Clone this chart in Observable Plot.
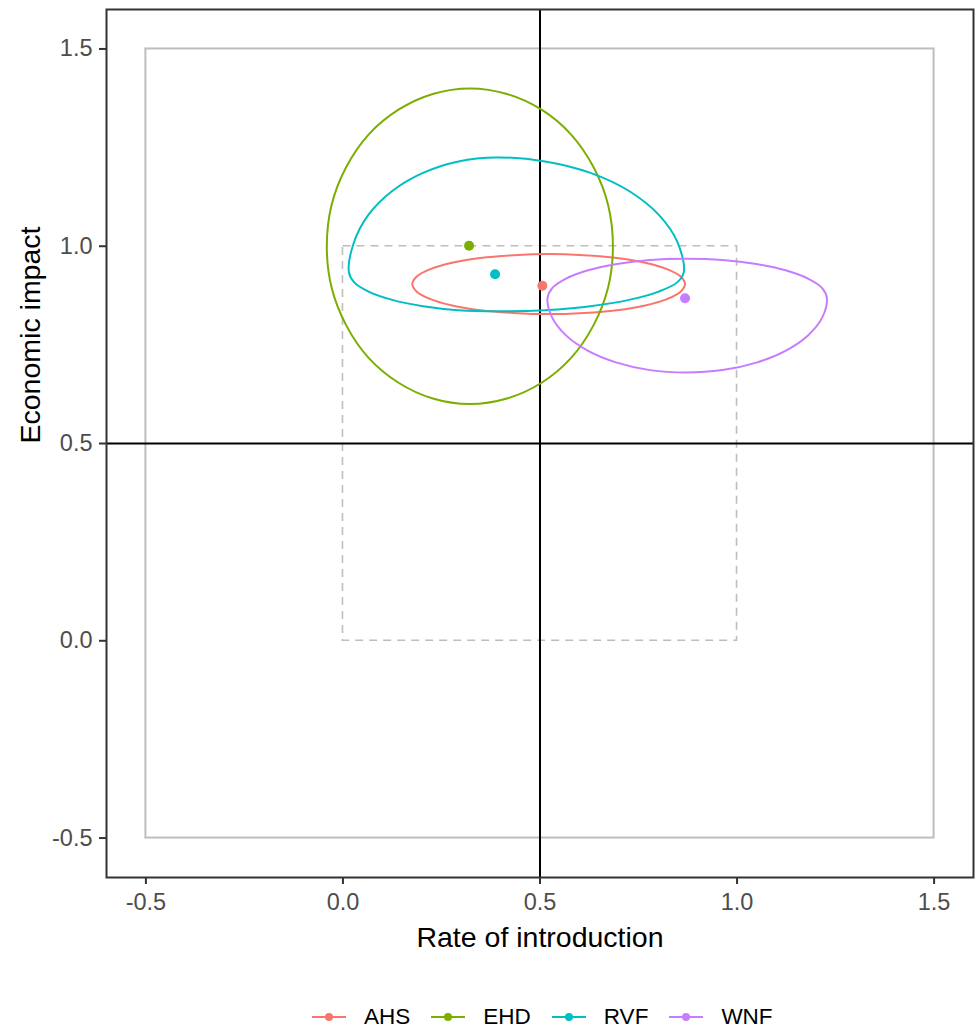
<!DOCTYPE html>
<html>
<head>
<meta charset="utf-8">
<script src="https://cdn.jsdelivr.net/npm/d3@7"></script>
<script src="https://cdn.jsdelivr.net/npm/@observablehq/plot@0.6"></script>
<style>
  html, body { margin: 0; padding: 0; background: white; }
  #chart svg [aria-label="x-axis tick"], #chart svg [aria-label="y-axis tick"] { stroke: #333333; }
  #chart svg [aria-label="x-axis tick label"], #chart svg [aria-label="y-axis tick label"] { fill: #4d4d4d; }
  #legend { width: 977px; height: 51px; box-sizing: border-box; padding-left: 312px; padding-top: 24px;
            display: flex; align-items: flex-start; font-family: "Liberation Sans", Arial, sans-serif;
            font-size: 22.5px; line-height: 26px; color: #000; }
  #legend .item { display: flex; align-items: center; margin-right: 21px; }
  #legend .item span { margin-left: 18px; }
</style>
</head>
<body>
<div id="chart"></div>
<div id="legend"></div>
<script>
// ---- data ----
const diseases = ["AHS", "EHD", "RVF", "WNF"];
const palette = ["#F8766D", "#7CAE00", "#00BFC4", "#C77CFF"];

// central estimates (points)
const centerX = [0.506, 0.320, 0.386, 0.868];
const centerY = [0.900, 1.001, 0.929, 0.868];

// outlines of the uncertainty regions (read around each shape)
const ahsX = [0.868, 0.856, 0.822, 0.767, 0.695, 0.612, 0.522, 0.432, 0.349, 0.277, 0.222, 0.188,
              0.176, 0.188, 0.222, 0.277, 0.349, 0.432, 0.522, 0.612, 0.695, 0.767, 0.822, 0.856];
const ahsY = [0.904, 0.924, 0.942, 0.958, 0.970, 0.977, 0.980, 0.977, 0.970, 0.958, 0.942, 0.924,
              0.904, 0.884, 0.866, 0.850, 0.838, 0.831, 0.828, 0.831, 0.838, 0.850, 0.866, 0.884];

const ehdX = [0.685, 0.673, 0.636, 0.579, 0.504, 0.416, 0.322, 0.228, 0.141, 0.065, 0.008, -0.029,
              -0.041, -0.029, 0.008, 0.065, 0.141, 0.228, 0.322, 0.416, 0.504, 0.579, 0.636, 0.673];
const ehdY = [1.000, 1.104, 1.200, 1.283, 1.346, 1.386, 1.400, 1.386, 1.346, 1.283, 1.200, 1.104,
              1.000, 0.896, 0.800, 0.717, 0.654, 0.614, 0.600, 0.614, 0.654, 0.717, 0.800, 0.896];

const rvfX = [0.865, 0.849, 0.801, 0.726, 0.628, 0.513, 0.390, 0.293, 0.203, 0.125, 0.065, 0.028,
              0.015, 0.028, 0.065, 0.125, 0.203, 0.293, 0.390, 0.513, 0.628, 0.726, 0.801, 0.849];
const rvfY = [0.935, 1.010, 1.080, 1.140, 1.186, 1.215, 1.225, 1.215, 1.186, 1.140, 1.080, 1.010,
              0.935, 0.909, 0.885, 0.864, 0.848, 0.838, 0.835, 0.838, 0.848, 0.864, 0.885, 0.909];

const wnfX = [1.228, 1.216, 1.180, 1.123, 1.049, 0.963, 0.870, 0.779, 0.695, 0.622, 0.566, 0.531,
              0.519, 0.531, 0.566, 0.622, 0.695, 0.779, 0.870, 0.963, 1.049, 1.123, 1.180, 1.216];
const wnfY = [0.868, 0.894, 0.918, 0.939, 0.955, 0.965, 0.968, 0.965, 0.955, 0.939, 0.918, 0.894,
              0.868, 0.819, 0.774, 0.735, 0.705, 0.686, 0.680, 0.686, 0.705, 0.735, 0.774, 0.819];

// reference boxes and quadrant lines
const outerBox = [-0.5, 1.5];
const innerBox = [0, 1];
const quadrantX = [0.5];
const quadrantY = [0.5];

const xTicks = [-0.5, 0, 0.5, 1, 1.5];
const yTicks = [-0.5, 0, 0.5, 1, 1.5];
const xTitle = "Rate of introduction";
const yTitle = "Economic impact";

// ---- tables built from the arrays ----
const outlineSets = [[ahsX, ahsY], [ehdX, ehdY], [rvfX, rvfY], [wnfX, wnfY]];
const outlineRows = [];
diseases.forEach((d, i) => {
  const [xs, ys] = outlineSets[i];
  xs.forEach((x, j) => outlineRows.push({disease: d, x, y: ys[j]}));
});
const pointRows = diseases.map((d, i) => ({disease: d, x: centerX[i], y: centerY[i]}));
const boxRows = [outerBox, innerBox].map(b => ({x1: b[0], x2: b[1], y1: b[0], y2: b[1]}));

const fmt = d => d.toFixed(1);
const font = '"Liberation Sans", Arial, sans-serif';

const chart = Plot.plot({
  width: 977,
  height: 980,
  marginLeft: 106,
  marginRight: 4,
  marginTop: 9,
  marginBottom: 103,
  x: {domain: [-0.6, 1.6]},
  y: {domain: [-0.6, 1.6]},
  color: {domain: diseases, range: palette},
  style: {fontFamily: font, background: "white", color: "black"},
  marks: [
    Plot.rect([boxRows[0]], {x1: "x1", x2: "x2", y1: "y1", y2: "y2", fill: "none", stroke: "#bebebe", strokeWidth: 2}),
    Plot.rect([boxRows[1]], {x1: "x1", x2: "x2", y1: "y1", y2: "y2", fill: "none", stroke: "#bebebe", strokeWidth: 1.6, strokeDasharray: "8,6"}),
    Plot.ruleX(quadrantX, {stroke: "black", strokeWidth: 2}),
    Plot.ruleY(quadrantY, {stroke: "black", strokeWidth: 2}),
    Plot.line(outlineRows, {x: "x", y: "y", z: "disease", stroke: "disease", strokeWidth: 2, curve: "catmull-rom-closed"}),
    Plot.dot(pointRows, {x: "x", y: "y", fill: "disease", r: 5}),
    Plot.frame({stroke: "#333333", strokeWidth: 2}),
    Plot.axisX(xTicks, {tickSize: 7, tickPadding: 9, tickFormat: fmt, fontSize: 23.5, strokeWidth: 2, label: null}),
    Plot.axisY(yTicks, {tickSize: 7, tickPadding: 7, tickFormat: fmt, fontSize: 23.5, strokeWidth: 2, label: null}),
    Plot.text([xTitle], {frameAnchor: "bottom", dy: 60, fontSize: 28.5, lineAnchor: "middle", fill: "black"}),
    Plot.text([yTitle], {frameAnchor: "left", dx: -76, rotate: -90, fontSize: 28.5, lineAnchor: "middle", fill: "black"})
  ]
});
document.getElementById("chart").appendChild(chart);

// legend below the plot
const legend = d3.select("#legend");
diseases.forEach((d, i) => {
  const item = legend.append("div").attr("class", "item");
  const g = item.append("svg").attr("width", 34).attr("height", 20);
  g.append("line").attr("x1", 0).attr("x2", 34).attr("y1", 10).attr("y2", 10)
    .attr("stroke", palette[i]).attr("stroke-width", 2);
  g.append("circle").attr("cx", 17).attr("cy", 10).attr("r", 4).attr("fill", palette[i]);
  item.append("span").text(d);
});
</script>
</body>
</html>
